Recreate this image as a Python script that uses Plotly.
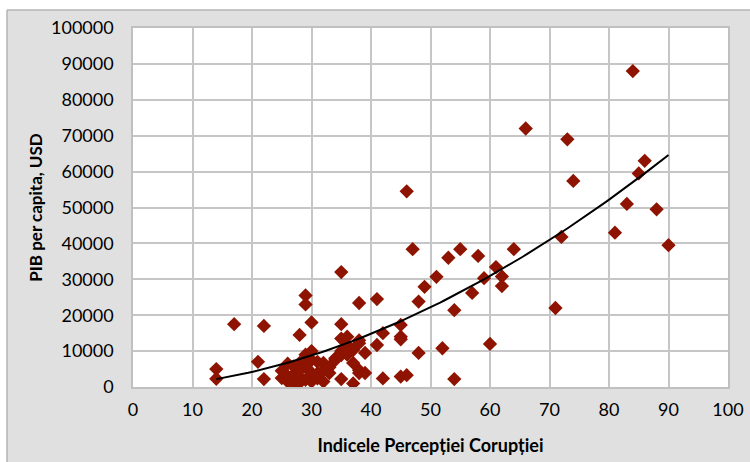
import numpy as np
import plotly.graph_objects as go

# Corruption Perceptions Index (x) and GDP per capita, USD (y)
cpi = [14, 14, 17, 21, 22, 22,
       25, 25, 26, 26, 26, 27, 27, 27,
       28, 28, 28, 28, 28, 29, 29, 29, 29, 29, 29,
       30, 30, 30, 30, 30, 31, 31, 31, 32, 32, 32,
       33, 33, 34, 34, 35, 35, 35, 35, 35, 35,
       36, 36, 36, 37, 37, 37, 38, 38, 38, 38, 38,
       39, 39, 41, 41, 42, 42, 45, 45, 45, 45,
       46, 46, 47, 48, 48, 49, 51, 52, 53, 54, 54,
       55, 57, 58, 59, 60, 61, 62, 62, 64, 66, 71,
       72, 73, 74, 81, 83, 84, 85, 86, 88, 90]
gdp = [5000, 2300, 17500, 7000, 17000, 2200,
       2500, 4500, 1500, 6500, 3000, 5700, 1000, 3500,
       14500, 6700, 2900, 4700, 1200, 25500, 23000, 9000, 2000, 5500, 7500,
       18000, 10000, 7500, 1500, 4000, 7000, 3800, 2400, 4700, 6700, 1500,
       3900, 5500, 8000, 7500, 32000, 17500, 13500, 10000, 8900, 2200,
       14000, 11700, 9000, 6700, 1000, 10300, 23400, 13000, 12200, 4700, 3900,
       9500, 3900, 24500, 11700, 15000, 2400, 17300, 14000, 13300, 2900,
       54500, 3300, 38400, 23800, 9500, 27900, 30700, 10800, 36000, 21400, 2200,
       38400, 26200, 36500, 30300, 12000, 33400, 30800, 28100, 38400, 72000, 22000,
       41800, 69000, 57400, 43000, 51000, 88000, 59500, 63000, 49500, 39500]

x_ticks = list(range(0, 101, 10))
y_ticks = list(range(0, 100001, 10000))

# Power trendline y = A * x^B, coefficients
trend_A = 18.1
trend_B = 1.818
tx = np.linspace(min(cpi), max(cpi), 100)
ty = trend_A * tx ** trend_B

fig = go.Figure()
fig.add_trace(go.Scatter(
    x=cpi, y=gdp, mode="markers",
    marker=dict(symbol="diamond", size=11, color="#8e1300",
                line=dict(width=0)),
    showlegend=False, hoverinfo="x+y"))
fig.add_trace(go.Scatter(
    x=tx, y=ty, mode="lines", line=dict(color="black", width=2),
    showlegend=False, hoverinfo="skip"))

W, H = 750, 462
L, R, T, B = 133, 22, 28, 75
pw, ph = W - L - R, H - T - B

def px(xp):
    return (xp - L) / pw

def py(yp):
    return (H - B - yp) / ph

shapes = [
    dict(type="rect", xref="paper", yref="paper", x0=px(-5), x1=px(W + 5),
         y0=py(10), y1=py(-5), fillcolor="white", line=dict(width=0), layer="below"),
    dict(type="rect", xref="paper", yref="paper", x0=px(-5), x1=px(7),
         y0=py(H + 5), y1=py(10), fillcolor="white", line=dict(width=0), layer="below"),
    dict(type="line", xref="paper", yref="paper", x0=px(7), x1=px(W + 5),
         y0=py(10), y1=py(10), line=dict(color="#b5b5b5", width=1.5), layer="below"),
    dict(type="line", xref="paper", yref="paper", x0=px(7), x1=px(7),
         y0=py(10), y1=py(H + 5), line=dict(color="#b5b5b5", width=1.5), layer="below"),
]

font = "Lato, 'Open Sans', sans-serif"
fig.update_layout(
    width=W, height=H,
    margin=dict(l=L, r=R, t=T, b=B, autoexpand=False),
    paper_bgcolor="#e0e0e0", plot_bgcolor="white",
    shapes=shapes,
    font=dict(family=font, size=18, color="black"),
    xaxis=dict(range=[0, 100], tickvals=x_ticks, ticktext=[str(v) for v in x_ticks],
               tickfont=dict(size=18),
               showgrid=True, gridcolor="#c6c6c6", gridwidth=1.5,
               showline=True, linecolor="#c0c0c0", linewidth=1.5, mirror=True,
               zeroline=False, ticks="", ticklabelstandoff=6, automargin=False,
               title=dict(text="<b>Indicele Percepției Corupției</b>",
                          font=dict(size=18), standoff=20)),
    yaxis=dict(range=[0, 100000], tickvals=y_ticks, ticktext=[str(v) for v in y_ticks],
               tickfont=dict(size=18),
               showgrid=True, gridcolor="#c6c6c6", gridwidth=1.5,
               showline=True, linecolor="#c0c0c0", linewidth=1.5, mirror=True,
               zeroline=False, ticks="", ticklabelstandoff=14, automargin=False,
               title=dict(text="<b>PIB per capita, USD</b>",
                          font=dict(size=17), standoff=4)),
)

fig.write_html("out.html", config={"displayModeBar": False},
               post_script="document.body.style.margin='0';document.body.style.overflow='hidden';")
